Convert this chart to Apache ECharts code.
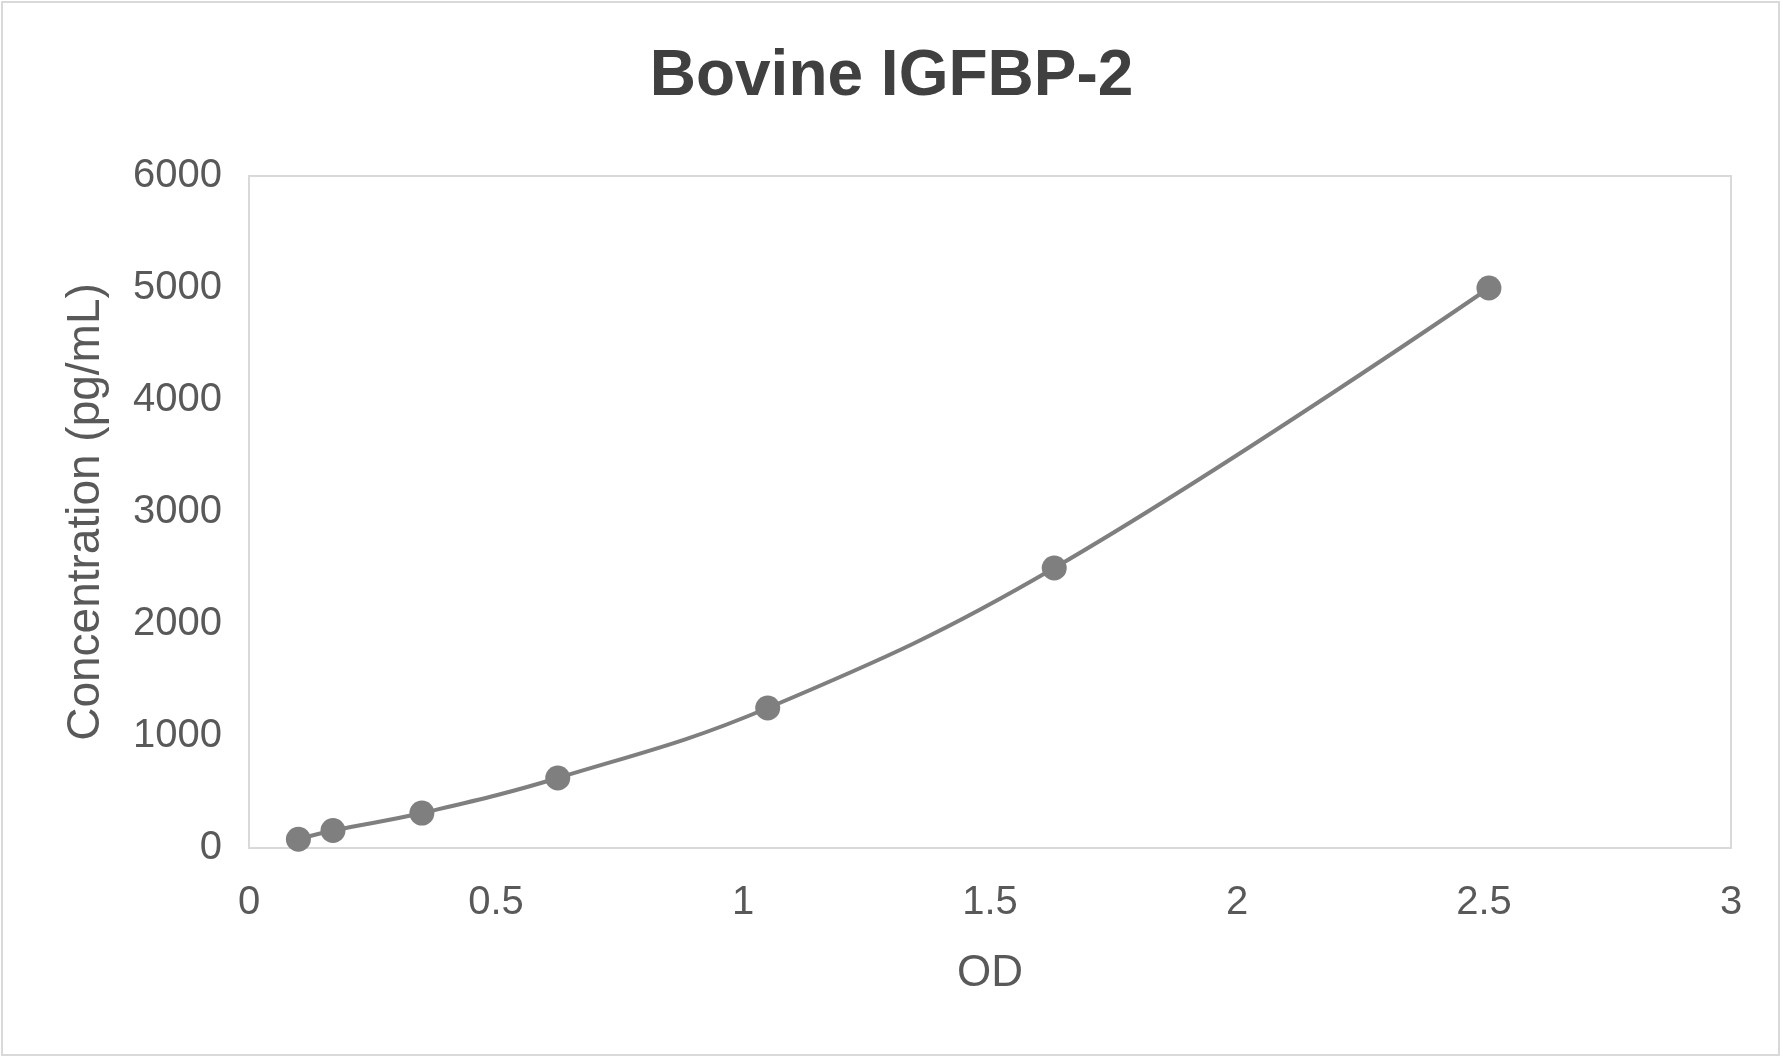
<!DOCTYPE html>
<html>
<head>
<meta charset="utf-8">
<script src="https://cdn.jsdelivr.net/npm/echarts@6/dist/echarts.min.js"></script>
<style>
html,body{margin:0;padding:0;background:#fff;}
#chart{width:1783px;height:1058px;}
</style>
</head>
<body>
<div id="chart"></div>
<script>
const chartTitle = 'Bovine IGFBP-2';
const xAxisName = 'OD';
const yAxisName = 'Concentration (pg/mL)';
const odValues = [0.100, 0.170, 0.350, 0.625, 1.050, 1.630, 2.510];
const concValues = [78, 156, 312, 625, 1250, 2500, 5000];
const seriesData = odValues.map((x, i) => [x, concValues[i]]);

const chart = echarts.init(document.getElementById('chart'));
const textColor = '#595959';
const font = 'Liberation Sans, Arial, sans-serif';
chart.setOption({
  backgroundColor: '#ffffff',
  animation: false,
  title: {
    text: chartTitle,
    left: 'center',
    top: 40,
    textStyle: { fontFamily: font, fontSize: 64, fontWeight: 'bold', color: '#404040' }
  },
  graphic: [{
    type: 'rect',
    shape: { x: 2, y: 2, width: 1777, height: 1053 },
    style: { fill: 'none', stroke: '#d9d9d9', lineWidth: 2 },
    silent: true
  }],
  grid: {
    left: 249, right: 52, top: 176, bottom: 210,
    show: true, borderColor: '#d9d9d9', borderWidth: 2, backgroundColor: 'transparent'
  },
  xAxis: {
    type: 'value', min: 0, max: 3, interval: 0.5,
    name: xAxisName, nameLocation: 'middle', nameGap: 104,
    nameTextStyle: { fontFamily: font, fontSize: 44, color: textColor },
    axisLine: { show: false }, axisTick: { show: false }, splitLine: { show: false },
    axisLabel: { fontFamily: font, fontSize: 40, color: textColor, margin: 35,
      formatter: v => String(v) }
  },
  yAxis: {
    type: 'value', min: 0, max: 6000, interval: 1000,
    name: yAxisName, nameLocation: 'middle', nameGap: 140, nameRotate: 90,
    nameTextStyle: { fontFamily: font, fontSize: 46, color: textColor },
    axisLine: { show: false }, axisTick: { show: false }, splitLine: { show: false },
    axisLabel: { fontFamily: font, fontSize: 40, color: textColor, margin: 27,
      formatter: v => String(v) }
  },
  series: [{
    type: 'line',
    data: seriesData,
    smooth: 0.4,
    symbol: 'circle',
    symbolSize: 25,
    lineStyle: { color: '#7f7f7f', width: 4 },
    itemStyle: { color: '#7f7f7f' }
  }]
});
</script>
</body>
</html>
